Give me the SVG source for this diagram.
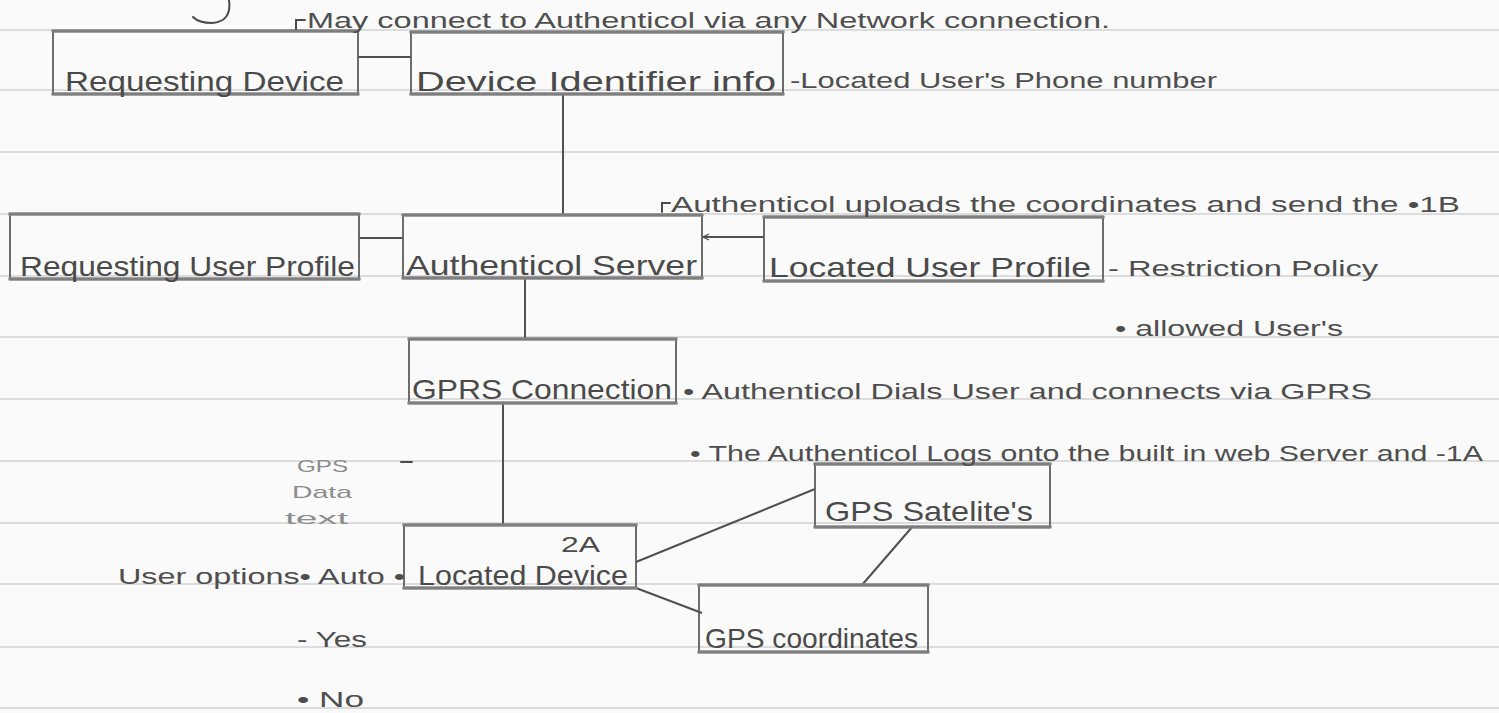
<svg xmlns="http://www.w3.org/2000/svg" width="1499" height="713" viewBox="0 0 1499 713">
<defs>
<style>
.paper{fill:#fafafa}
.rule{stroke:#d2d2d2;stroke-width:1.6}
.box{fill:none;stroke:#5e5e5e;stroke-width:1.8}
.edge{stroke:#858585;stroke-width:4;stroke-linecap:round;opacity:0.75}
.con{fill:none;stroke:#505050;stroke-width:2}
.mark{fill:none;stroke:#4a4a4a;stroke-width:2;stroke-linecap:round}
.lbl{font-family:"Liberation Sans",Arial,sans-serif;font-size:28px;fill:#4a4a4a}
.note{font-family:"Liberation Sans",Arial,sans-serif;font-size:22px;fill:#4e4e4e}
.faint{font-family:"Liberation Sans",Arial,sans-serif;font-size:17px;fill:#8c8c8c}
</style>
<marker id="ah" markerWidth="8" markerHeight="8" refX="1" refY="4" orient="auto" markerUnits="userSpaceOnUse">
<path d="M7,1 L1,4 L7,7" fill="none" stroke="#505050" stroke-width="1.3"/>
</marker>
</defs>
<rect class="paper" x="0" y="0" width="1499" height="713"/>
<g id="ruled-lines">
<line class="rule" x1="0" y1="30" x2="1499" y2="30"/>
<line class="rule" x1="0" y1="90" x2="1499" y2="90"/>
<line class="rule" x1="0" y1="152" x2="1499" y2="152"/>
<line class="rule" x1="0" y1="214" x2="1499" y2="214"/>
<line class="rule" x1="0" y1="276" x2="1499" y2="276"/>
<line class="rule" x1="0" y1="337" x2="1499" y2="337"/>
<line class="rule" x1="0" y1="399" x2="1499" y2="399"/>
<line class="rule" x1="0" y1="461" x2="1499" y2="461"/>
<line class="rule" x1="0" y1="523" x2="1499" y2="523"/>
<line class="rule" x1="0" y1="584" x2="1499" y2="584"/>
<line class="rule" x1="0" y1="647" x2="1499" y2="647"/>
<line class="rule" x1="0" y1="708" x2="1499" y2="708"/>
</g>
<g id="connectors">
<line class="con" x1="358" y1="57" x2="411" y2="57"/>
<line class="con" x1="563" y1="94" x2="563" y2="215"/>
<line class="con" x1="359" y1="238" x2="403" y2="238"/>
<line class="con" x1="703" y1="237" x2="764" y2="237" marker-start="url(#ah)"/>
<line class="con" x1="525" y1="278" x2="525" y2="339"/>
<line class="con" x1="503" y1="403" x2="503" y2="525"/>
<line class="con" x1="636" y1="562" x2="815" y2="489"/>
<line class="con" x1="636" y1="588" x2="702" y2="613"/>
<line class="con" x1="913" y1="526" x2="862" y2="585"/>
</g>
<g id="requesting-device">
<rect class="box" x="53" y="31" width="305" height="63"/>
<line class="edge" x1="53" y1="31" x2="358" y2="31"/>
<line class="edge" x1="53" y1="94" x2="358" y2="94"/>
<text class="lbl" x="65" y="91" textLength="279" lengthAdjust="spacingAndGlyphs">Requesting Device</text>
</g>
<g id="device-identifier-info">
<rect class="box" x="411" y="32" width="372" height="62"/>
<line class="edge" x1="411" y1="32" x2="783" y2="32"/>
<line class="edge" x1="411" y1="94" x2="783" y2="94"/>
<text class="lbl" x="416" y="91" textLength="360" lengthAdjust="spacingAndGlyphs">Device Identifier info</text>
</g>
<g id="requesting-user-profile">
<rect class="box" x="10" y="214" width="349" height="65"/>
<line class="edge" x1="10" y1="214" x2="359" y2="214"/>
<line class="edge" x1="10" y1="279" x2="359" y2="279"/>
<text class="lbl" x="20" y="276" textLength="335" lengthAdjust="spacingAndGlyphs">Requesting User Profile</text>
</g>
<g id="authenticol-server">
<rect class="box" x="403" y="215" width="299" height="63"/>
<line class="edge" x1="403" y1="215" x2="702" y2="215"/>
<line class="edge" x1="403" y1="278" x2="702" y2="278"/>
<text class="lbl" x="406" y="275" textLength="291" lengthAdjust="spacingAndGlyphs">Authenticol Server</text>
</g>
<g id="located-user-profile">
<rect class="box" x="764" y="217" width="339" height="64"/>
<line class="edge" x1="764" y1="217" x2="1103" y2="217"/>
<line class="edge" x1="764" y1="281" x2="1103" y2="281"/>
<text class="lbl" x="769" y="277" textLength="322" lengthAdjust="spacingAndGlyphs">Located User Profile</text>
</g>
<g id="gprs-connection">
<rect class="box" x="409" y="339" width="267" height="64"/>
<line class="edge" x1="409" y1="339" x2="676" y2="339"/>
<line class="edge" x1="409" y1="403" x2="676" y2="403"/>
<text class="lbl" x="412" y="399" textLength="260" lengthAdjust="spacingAndGlyphs">GPRS Connection</text>
</g>
<g id="located-device">
<rect class="box" x="404" y="525" width="232" height="63"/>
<line class="edge" x1="404" y1="525" x2="636" y2="525"/>
<line class="edge" x1="404" y1="588" x2="636" y2="588"/>
<text class="lbl" x="561" y="552" style="font-size:22px" textLength="39" lengthAdjust="spacingAndGlyphs">2A</text>
<text class="lbl" x="418" y="585" textLength="210" lengthAdjust="spacingAndGlyphs">Located Device</text>
</g>
<g id="gps-satelites">
<rect class="box" x="815" y="464" width="235" height="63"/>
<line class="edge" x1="815" y1="464" x2="1050" y2="464"/>
<line class="edge" x1="815" y1="527" x2="1050" y2="527"/>
<text class="lbl" x="825" y="521" textLength="208" lengthAdjust="spacingAndGlyphs">GPS Satelite's</text>
</g>
<g id="gps-coordinates">
<rect class="box" x="699" y="585" width="229" height="67"/>
<line class="edge" x1="699" y1="585" x2="928" y2="585"/>
<line class="edge" x1="699" y1="652" x2="928" y2="652"/>
<text class="lbl" x="705" y="648" textLength="213" lengthAdjust="spacingAndGlyphs">GPS coordinates</text>
</g>
<g id="annotations">
<path class="mark" d="M229,0 C231,15 225,22 212,23 C203,23 197,21 193,17"/>
<path class="mark" d="M296,29 L296,20 L305,20"/>
<text class="note" x="307" y="28" textLength="803" lengthAdjust="spacingAndGlyphs">May connect to Authenticol via any Network connection.</text>
<text class="note" x="790" y="88" textLength="427" lengthAdjust="spacingAndGlyphs">-Located User's Phone number</text>
<path class="mark" d="M662,212 L662,203 L670,203"/>
<text class="note" x="671" y="212" textLength="789" lengthAdjust="spacingAndGlyphs">Authenticol uploads the coordinates and send the •1B</text>
<text class="note" x="1108" y="276" textLength="270" lengthAdjust="spacingAndGlyphs">- Restriction Policy</text>
<text class="note" x="1115" y="336" textLength="228" lengthAdjust="spacingAndGlyphs">• allowed User's</text>
<text class="note" x="683" y="399" textLength="689" lengthAdjust="spacingAndGlyphs">• Authenticol Dials User and connects via GPRS</text>
<text class="note" x="690" y="461" textLength="793" lengthAdjust="spacingAndGlyphs">• The Authenticol Logs onto the built in web Server and -1A</text>
<text class="faint" x="297" y="472" textLength="51" lengthAdjust="spacingAndGlyphs">GPS</text>
<text class="faint" x="292" y="498" textLength="60" lengthAdjust="spacingAndGlyphs">Data</text>
<text class="faint" x="285" y="524" textLength="63" lengthAdjust="spacingAndGlyphs">text</text>
<line class="mark" x1="401" y1="462" x2="412" y2="462"/>
<text class="note" x="118" y="584" textLength="287" lengthAdjust="spacingAndGlyphs">User options• Auto •</text>
<text class="note" x="297" y="647" textLength="70" lengthAdjust="spacingAndGlyphs">- Yes</text>
<text class="note" x="297" y="707" textLength="67" lengthAdjust="spacingAndGlyphs">• No</text>
</g>
</svg>
